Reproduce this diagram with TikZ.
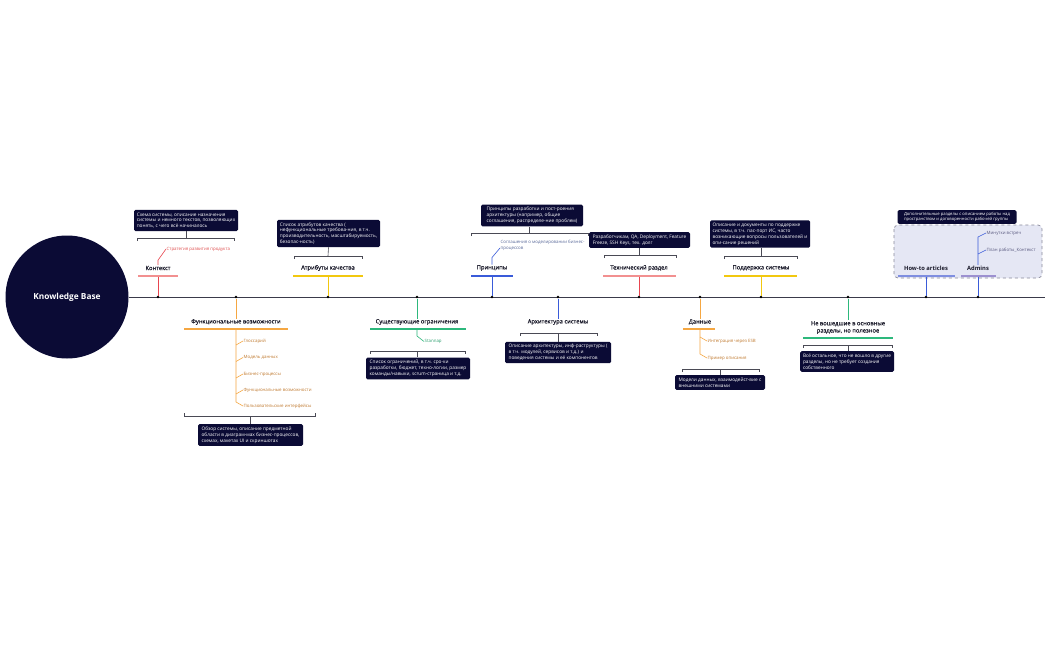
\documentclass[tikz,border=0pt]{standalone}
\usepackage{fontspec}
\setmainfont{Open Sans}
\newfontfamily\medfont{Open Sans}[FakeBold=0.6]
\definecolor{navy}{HTML}{0B0B35}
\definecolor{axisc}{HTML}{3A3A4A}
\definecolor{cred}{HTML}{E8454F}
\definecolor{ured}{HTML}{F29090}
\definecolor{corange}{HTML}{F5A742}
\definecolor{cyellow}{HTML}{F2C80F}
\definecolor{cgreen}{HTML}{2DB87C}
\definecolor{cblue}{HTML}{3A5BD9}
\definecolor{chow}{HTML}{7F8EE0}
\definecolor{cadm}{HTML}{9C90D0}
\definecolor{grpfill}{HTML}{E5E7F4}
\definecolor{grpline}{HTML}{8A8A9A}
\definecolor{subred}{HTML}{E05050}
\definecolor{suborange}{HTML}{C07A30}
\definecolor{subgreen}{HTML}{2DA070}
\definecolor{subblue}{HTML}{5A6A9A}
\definecolor{subadm}{HTML}{5A5A80}
\definecolor{lblc}{HTML}{1A1A2A}
\definecolor{brkc}{HTML}{4A4A55}
\begin{document}
\begin{tikzpicture}[x=1pt,y=-1pt,
  kb/.style={circle,fill=navy,minimum size=123pt,inner sep=0pt,text=white,font=\bfseries\fontsize{8.3}{10}\selectfont},
  axisline/.style={draw=axisc,line width=1pt},
  dot/.style={circle,fill=black,inner sep=0pt,minimum size=2.6pt},
  note/.style={fill=navy,rounded corners=1.5pt,text=white,inner xsep=2pt,inner ysep=2.6pt,align=left,font=\fontsize{4.75}{5.9}\selectfont},
  lbl/.style={text=lblc,inner sep=0.5pt,font=\medfont\fontsize{5.8}{7.2}\selectfont},
  blbl/.style={text=lblc,inner sep=0.5pt,font=\bfseries\fontsize{5.8}{7.2}\selectfont},
  subt/.style={anchor=west,inner sep=0.5pt,font=\fontsize{4.4}{5.4}\selectfont,align=left},
  stem/.style={line width=0.9pt},
  uline/.style={line width=1.3pt},
  conn/.style={line width=0.6pt},
  brk/.style={draw=brkc,line width=0.6pt},
  grp/.style={fill=grpfill,draw=grpline,dashed,rounded corners=4pt,line width=0.7pt}
]
\useasboundingbox (0,0) rectangle (1050,650);
\fill[white] (0,0) rectangle (1050,650);

% group background
\draw[grp] (894,225) rectangle (1042,278);

% centre and axis
\node[kb] (kb) at (67,297) {Knowledge Base};
\coordinate (axend) at (1045,297);
\draw[axisline] (kb.east) -- (axend);

\foreach \n/\x in {d1/158,d2/236,d3/328,d4/417,d5/492,d6/558,d7/639,d8/700,d9/761,d10/848,d11/926,d12/978}
  \node[dot] (\n) at (\x,297) {};

%% ---------- Контекст
\coordinate (u1a) at (138,276); \coordinate (u1b) at (178,276);
\draw[stem,cred] (d1) -- (d1 |- u1a);
\draw[uline,ured] (u1a) -- (u1b);
\node[lbl] (l1) at (158,268) {Контекст};
\node[subt,text=subred] (s1) at (166,249) {Стратегия развития продукта};
\draw[conn,cred] (l1.north) -- ++(0,-5) -- (s1.west);
\node[note,minimum width=104pt] (n1) at (186,220.5) {Схема системы, описание назначения\\системы и немного текстов, позволяющих\\понять, с чего всё начиналось};
\coordinate (b1a) at (137,238); \coordinate (b1b) at (234,238); \coordinate (b1c) at (186,238);
\draw[brk] ([yshift=-3pt]b1a) -- (b1a) -- (b1b) -- ([yshift=-3pt]b1b);
\draw[brk] (b1c) -- (n1.south);

%% ---------- Атрибуты качества
\coordinate (u3a) at (293,276); \coordinate (u3b) at (363,276);
\draw[stem,cyellow] (d3) -- (d3 |- u3a);
\draw[uline,cyellow] (u3a) -- (u3b);
\node[lbl] (l3) at (328,268) {Атрибуты качества};
\node[note,minimum width=103pt] (n3) at (328.5,233.5) {Список атрибутов качества (\\нефункциональные требова-ния, в т.ч.\\производительность, масштабируемость,\\безопас-ность)};
\coordinate (b3a) at (294,256); \coordinate (b3b) at (362,256); \coordinate (b3c) at (328,256);
\draw[brk] ([yshift=-3pt]b3a) -- (b3a) -- (b3b) -- ([yshift=-3pt]b3b);
\draw[brk] (b3c) -- (n3.south);

%% ---------- Принципы
\coordinate (u5a) at (471,276); \coordinate (u5b) at (513,276);
\draw[stem,cblue] (d5) -- (d5 |- u5a);
\draw[uline,cblue] (u5a) -- (u5b);
\node[lbl] (l5) at (492,268) {Принципы};
\node[subt,text=subblue] (s5) at (500,245.5) {Соглашения о моделировании бизнес-\\процессов};
\draw[conn,cblue] (l5.north) -- ++(0,-7) -- ([yshift=-2.5pt]s5.west);
\node[note,minimum width=102pt] (n5) at (532,215.5) {Принципы разработки и пост-роения\\архитектуры (например, общие\\соглашения, распределе-ние проблем)};
\coordinate (b5a) at (471,233); \coordinate (b5b) at (588,233); \coordinate (b5c) at (529,233);
\draw[brk] ([yshift=-3pt]b5a) -- (b5a) -- (b5b) -- ([yshift=-3pt]b5b);
\draw[brk] (b5c) -- (b5c |- n5.south);

%% ---------- Технический раздел
\coordinate (u7a) at (603,276); \coordinate (u7b) at (676,276);
\draw[stem,cred] (d7) -- (d7 |- u7a);
\draw[uline,ured] (u7a) -- (u7b);
\node[lbl] (l7) at (639,268) {Технический раздел};
\node[note,minimum width=101pt] (n7) at (639.5,240) {Разработчикам, QA, Deployment, Feature\\Freeze, SSH Keys, тех. долг};
\coordinate (b7a) at (604,255); \coordinate (b7b) at (676,255); \coordinate (b7c) at (639,255);
\draw[brk] ([yshift=-3pt]b7a) -- (b7a) -- (b7b) -- ([yshift=-3pt]b7b);
\draw[brk] (b7c) -- (b7c |- n7.south);

%% ---------- Поддержка системы
\coordinate (u9a) at (724,276); \coordinate (u9b) at (797,276);
\draw[stem,cyellow] (d9) -- (d9 |- u9a);
\draw[uline,cyellow] (u9a) -- (u9b);
\node[lbl] (l9) at (761,268) {Поддержка системы};
\node[note,minimum width=100pt] (n9) at (760,234) {Описание и документы по поддержке\\системы, в т.ч. пас-порт ИС, часто\\возникающие вопросы пользователей и\\опи-сание решений};
\coordinate (b9a) at (724,256); \coordinate (b9b) at (797,256); \coordinate (b9c) at (761,256);
\draw[brk] ([yshift=-3pt]b9a) -- (b9a) -- (b9b) -- ([yshift=-3pt]b9b);
\draw[brk] (b9c) -- (b9c |- n9.south);

%% ---------- How-to articles / Admins
\coordinate (u11a) at (898,276); \coordinate (u11b) at (955,276);
\coordinate (u12a) at (961,276); \coordinate (u12b) at (996,276);
\draw[stem,cblue] (d11) -- (d11 |- u11a);
\draw[stem,cblue] (d12) -- (d12 |- u12a);
\draw[uline,chow] (u11a) -- (u11b);
\draw[uline,cadm] (u12a) -- (u12b);
\node[blbl] (l11) at (926,268) {How-to articles};
\node[blbl] (l12) at (978,268) {Admins};
\node[subt,text=subadm] (s12a) at (986,233) {Минутки встреч};
\node[subt,text=subadm] (s12b) at (986,250) {План работы\_Контекст};
\coordinate (a12top) at (978,237);
\draw[conn,cblue] (l12.north) -- (a12top) -- (s12a.west);
\draw[conn,cblue] (978,254) -- (s12b.west);
\node[note,minimum width=119pt,inner ysep=2pt,font=\fontsize{4.2}{5.3}\selectfont] (n11) at (957,217) {Дополнительные разделы с описанием работы над\\пространством и договоренности рабочей группы};

%% ---------- Функциональные возможности
\coordinate (u2a) at (184,329); \coordinate (u2b) at (288,329);
\node[lbl] (l2) at (236,322) {Функциональные возможности};
\draw[stem,corange] (d2) -- (l2.north);
\draw[uline,corange] (u2a) -- (u2b);
\node[subt,text=suborange] (s2a) at (243,341) {Глоссарий};
\node[subt,text=suborange] (s2b) at (243,357.5) {Модель данных};
\node[subt,text=suborange] (s2c) at (243,374) {Бизнес-процессы};
\node[subt,text=suborange] (s2d) at (243,390) {Функциональные возможности};
\node[subt,text=suborange] (s2e) at (243,406) {Пользовательские интерфейсы};
\coordinate (v2top) at (236,330);
\coordinate (v2bot) at (236,402);
\draw[conn,corange] (v2top) -- (v2bot) -- (s2e.west);
\foreach \s in {s2a,s2b,s2c,s2d}
  \draw[conn,corange] ([yshift=-4pt]v2top |- \s.west) -- (\s.west);
\node[note,minimum width=105pt] (n2) at (250.5,435) {Обзор системы, описание предметной\\области в диаграм-мах бизнес-процессов,\\схемах, макетах UI и скриншотах};
\coordinate (b2a) at (184,416); \coordinate (b2b) at (315,416); \coordinate (b2c) at (250,416);
\draw[brk] ([yshift=3pt]b2a) -- (b2a) -- (b2b) -- ([yshift=3pt]b2b);
\draw[brk] (b2c) -- (b2c |- n2.north);

%% ---------- Существующие ограничения
\coordinate (u4a) at (370,329); \coordinate (u4b) at (466,329);
\node[lbl] (l4) at (417,322) {Существующие ограничения};
\draw[stem,cgreen] (d4) -- (l4.north);
\draw[uline,cgreen] (u4a) -- (u4b);
\node[subt,text=subgreen] (s4) at (424,341.5) {Stannap};
\coordinate (v4top) at (417,330);
\draw[conn,cgreen] (v4top) -- ++(0,6) -- (s4.west);
\node[note,minimum width=104pt] (n4) at (418,368.5) {Список ограничений, в т.ч. сро-ки\\разработки, бюджет, техно-логии, размер\\команды/навыки, scrum-страница и т.д.};
\coordinate (b4a) at (370,351); \coordinate (b4b) at (465,351); \coordinate (b4c) at (417,351);
\draw[brk] ([yshift=-3pt]b4a) -- (b4a) -- (b4b) -- ([yshift=-3pt]b4b);
\draw[brk] (b4c) -- (b4c |- n4.north);

%% ---------- Архитектура системы
\node[lbl] (l6) at (558,322) {Архитектура системы};
\draw[stem,cblue] (d6) -- (l6.north);
\node[note,minimum width=106pt] (n6) at (558,352.5) {Описание архитектуры, инф-раструктуры (\\в т.ч. модулей, сервисов и т.д.) и\\поведения системы и её компонентов};
\coordinate (b6a) at (520,333); \coordinate (b6b) at (597,333); \coordinate (b6c) at (558,333);
\draw[brk] ([yshift=-3pt]b6a) -- (b6a) -- (b6b) -- ([yshift=-3pt]b6b);
\draw[brk] (b6c) -- (n6.north);

%% ---------- Данные
\coordinate (u8a) at (683,329); \coordinate (u8b) at (715,329);
\node[lbl] (l8) at (700,322) {Данные};
\draw[stem,corange] (d8) -- (l8.north);
\draw[uline,corange] (u8a) -- (u8b);
\node[subt,text=suborange] (s8a) at (707,341) {Интеграция через ESB};
\node[subt,text=suborange] (s8b) at (707,358) {Пример описания};
\coordinate (v8top) at (700,330);
\coordinate (v8bot) at (700,354);
\draw[conn,corange] (v8top) -- (v8bot) -- (s8b.west);
\draw[conn,corange] (700,337) -- (s8a.west);
\node[note,minimum width=90pt] (n8) at (720,382.5) {Модели данных, взаимодейст-вие с\\внешними системами};
\coordinate (b8a) at (682,369); \coordinate (b8b) at (759,369); \coordinate (b8c) at (720,369);
\draw[brk] ([yshift=-3pt]b8a) -- (b8a) -- (b8b) -- ([yshift=-3pt]b8b);
\draw[brk] (b8c) -- (b8c |- n8.north);

%% ---------- Не вошедшие
\node[lbl,align=center] (l10) at (848,327.5) {Не вошедшие в основные\\разделы, но полезное};
\draw[stem,cgreen] (d10) -- (l10.north);
\coordinate (u10a) at (803,338); \coordinate (u10b) at (893,338);
\draw[uline,cgreen] (u10a) -- (u10b);
\node[note,minimum width=94pt] (n10) at (847,361.5) {Всё остальное, что не вошло в другие\\разделы, но не требует создания\\собственного};
\coordinate (b10a) at (803,345); \coordinate (b10b) at (892,345); \coordinate (b10c) at (848,345);
\draw[brk] ([yshift=-3pt]b10a) -- (b10a) -- (b10b) -- ([yshift=-3pt]b10b);
\draw[brk] (b10c) -- (b10c |- n10.north);
\end{tikzpicture}
\end{document}
